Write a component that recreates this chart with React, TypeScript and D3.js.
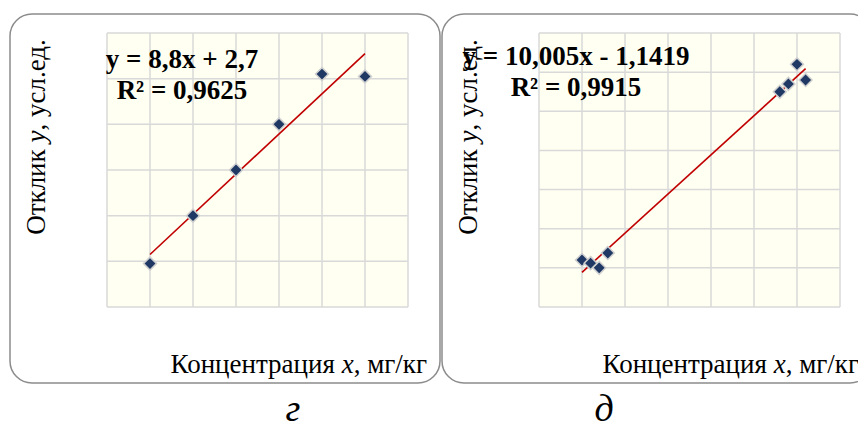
import React from "react";
import * as d3 from "d3";

// panel "г"
const concG = [1, 2, 3, 4, 5, 6];
const respG = [9.5, 20, 30, 40, 51, 50.5];
const xTicksG = [0, 1, 2, 3, 4, 5, 6, 7];
const yTicksG = [0, 10, 20, 30, 40, 50, 60];
const eqG = ["y = 8,8x + 2,7", "R² = 0,9625"];

// panel "д"
const concD = [1.0, 1.2, 1.4, 1.6, 5.6, 5.8, 6.0, 6.2];
const respD = [12, 11.2, 10, 13.8, 55, 57, 62, 58];
const xTicksD = [0, 1, 2, 3, 4, 5, 6, 7];
const yTicksD = [0, 10, 20, 30, 40, 50, 60, 70];
const eqD = ["y = 10,005x - 1,1419", "R² = 0,9915"];

const panelLabels = ["г", "д"];

const SERIF = "'Liberation Serif', 'Times New Roman', serif";
const W = 858;
const H = 428;

// least squares line through the points
function fitLine(xs: number[], ys: number[]) {
  const mx = d3.mean(xs)!;
  const my = d3.mean(ys)!;
  const sxy = d3.sum(xs, (x, i) => (x - mx) * (ys[i] - my));
  const sxx = d3.sum(xs, x => (x - mx) ** 2);
  const slope = sxy / sxx;
  return { slope, intercept: my - slope * mx };
}

type PanelProps = {
  dx: number;
  xs: number[];
  ys: number[];
  xTicks: number[];
  yTicks: number[];
  eq: string[];
  eqX: number;
  eqY: number;
};

function Panel({ dx, xs, ys, xTicks, yTicks, eq, eqX, eqY }: PanelProps) {
  const plot = { left: 107, right: 408, top: 33, bottom: 307 };

  const x = d3.scaleLinear()
    .domain(d3.extent(xTicks) as [number, number])
    .range([plot.left, plot.right]);
  const y = d3.scaleLinear()
    .domain(d3.extent(yTicks) as [number, number])
    .range([plot.bottom, plot.top]);

  const { slope, intercept } = fitLine(xs, ys);
  const [x0, x1] = d3.extent(xs) as [number, number];
  const trend = d3.line<number>()
    .x(d => x(d))
    .y(d => y(slope * d + intercept));

  const diamond = d3.symbol().type(d3.symbolSquare).size(84)();

  return (
    <g transform={`translate(${dx},0)`}>
      <rect x={10} y={14} width={430} height={369} rx={22} ry={22}
        fill="white" stroke="#8c8c8c" strokeWidth={1.5} />

      <rect x={plot.left} y={plot.top} width={plot.right - plot.left}
        height={plot.bottom - plot.top} fill="#fffff2" />

      {xTicks.map(t => (
        <line key={"vx" + t} x1={x(t)} x2={x(t)} y1={plot.top} y2={plot.bottom}
          stroke="#d9d9d9" strokeWidth={1.5} />
      ))}
      {yTicks.map(t => (
        <line key={"hy" + t} x1={plot.left} x2={plot.right} y1={y(t)} y2={y(t)}
          stroke="#d9d9d9" strokeWidth={1.5} />
      ))}

      <path d={trend([x0, x1]) || ""} fill="none" stroke="#c00000" strokeWidth={1.6} />

      {xs.map((v, i) => (
        <path key={i} d={diamond || ""}
          transform={`translate(${x(v)},${y(ys[i])}) rotate(45)`}
          fill="#1f3864" stroke="#d0d0d0" strokeWidth={1.5} />
      ))}

      <text transform="translate(45,137) rotate(-90)" textAnchor="middle"
        fontFamily={SERIF} fontSize={27} fill="#000">
        Отклик <tspan fontStyle="italic">y</tspan>, усл.ед.
      </text>

      <text x={427} y={373} textAnchor="end" fontFamily={SERIF} fontSize={27} fill="#000">
        Концентрация <tspan fontStyle="italic">x</tspan>, мг/кг
      </text>

      {eq.map((s, i) => (
        <text key={s} x={eqX} y={eqY + i * 31} textAnchor="middle"
          fontFamily={SERIF} fontWeight="bold" fontSize={27} fill="#000">
          {s}
        </text>
      ))}
    </g>
  );
}

export default function App() {
  return (
    <svg width={W} height={H} style={{ position: "absolute", left: 0, top: 0, background: "white" }}>
      <Panel dx={0} xs={concG} ys={respG} xTicks={xTicksG} yTicks={yTicksG}
        eq={eqG} eqX={182} eqY={68} />
      <Panel dx={432} xs={concD} ys={respD} xTicks={xTicksD} yTicks={yTicksD}
        eq={eqD} eqX={144} eqY={65} />

      {panelLabels.map((s, i) => (
        <text key={s} x={i === 0 ? 293 : 604} y={421} textAnchor="middle"
          fontFamily={SERIF} fontStyle="italic" fontSize={38} fill="#000">
          {s}
        </text>
      ))}
    </svg>
  );
}
